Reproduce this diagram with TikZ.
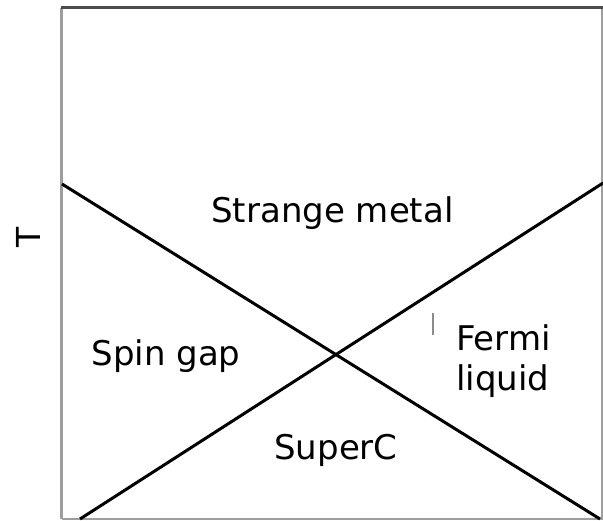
\documentclass[tikz,border=0pt]{standalone}
\usepackage{fontspec}
\setmainfont{DejaVu Sans}
\begin{document}
\begin{tikzpicture}[x=1pt,y=-1pt,
  lbl/.style={font=\fontsize{34}{40}\selectfont, inner sep=0pt, anchor=base},
  phase/.style={line width=3pt, black},
  frame/.style={line width=2.5pt, draw=black!38}]
\useasboundingbox (0,0) rectangle (603,520);
% frame
\draw[frame] (61.5,519) -- (61.5,7.5) (602,7.5) -- (602,519) -- (61.5,519);
\draw[line width=2.5pt, draw=black!70] (60.5,7.5) -- (603,7.5);
% phase lines
\coordinate (a1) at (62,184);
\coordinate (a2) at (600,519);
\coordinate (b1) at (80,519);
\coordinate (b2) at (603,183);
\draw[phase] (a1) -- (a2);
\draw[phase] (b1) -- (b2);
% stray tick
\coordinate (t1) at (433,313);
\coordinate (t2) at (433,335);
\draw[line width=1.3pt, black!45] (t1) -- (t2);
% labels
\node[lbl] (sm) at (332.5,222) {Strange metal};
\node[lbl] (sg) at (166,365) {Spin gap};
\node[lbl] (sc) at (336,459) {SuperC};
\node[lbl, anchor=base west] (fe) at (456,350) {Fermi};
\node[lbl, anchor=base west] (fl) at (456,390) {liquid};
\node[font=\fontsize{33}{40}\selectfont, inner sep=0pt, rotate=90] (T) at (28,237) {T};
\end{tikzpicture}
\end{document}
